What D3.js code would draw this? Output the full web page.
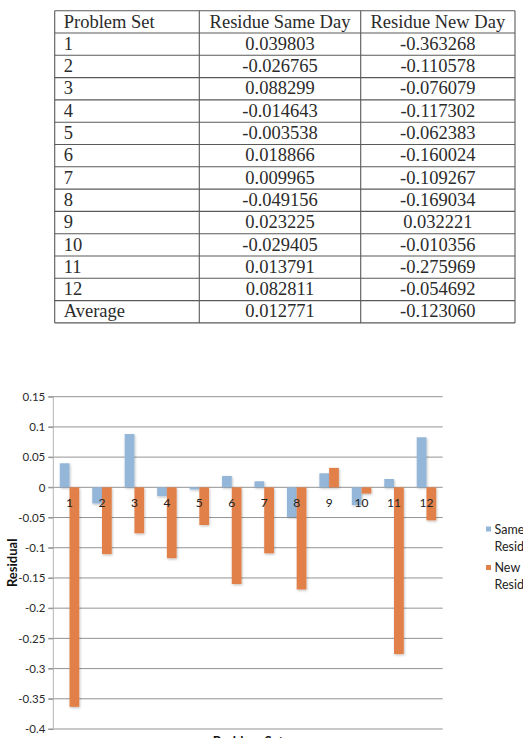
<!DOCTYPE html>
<html>
<head>
<meta charset="utf-8">
<script src="https://d3js.org/d3.v7.min.js"></script>
<style>
  html, body { margin: 0; padding: 0; background: #fff; }
  svg { display: block; }
</style>
</head>
<body>
<div id="chart"></div>
<script>
// data
const problemSets = ["1", "2", "3", "4", "5", "6", "7", "8", "9", "10", "11", "12"];
const sameDay = [0.039803, -0.026765, 0.088299, -0.014643, -0.003538, 0.018866,
                 0.009965, -0.049156, 0.023225, -0.029405, 0.013791, 0.082811];
const newDay = [-0.363268, -0.110578, -0.076079, -0.117302, -0.062383, -0.160024,
                -0.109267, -0.169034, 0.032221, -0.010356, -0.275969, -0.054692];
const averageRow = ["Average", "0.012771", "-0.123060"];
const tableHeader = ["Problem Set", "Residue Same Day", "Residue New Day"];
const yTicks = [0.15, 0.1, 0.05, 0, -0.05, -0.1, -0.15, -0.2, -0.25, -0.3, -0.35, -0.4];
const seriesNames = [["Same Day", "Residue"], ["New Day", "Residue"]];
const seriesColors = ["#93b6d9", "#e2804a"];

function initChart() {
  const width = 523, height = 738;
  const svg = d3.select("#chart").append("svg")
    .attr("width", width)
    .attr("height", height);

  // 1) TABLE
  const fmt = v => v.toFixed(6);
  const rows = [tableHeader]
    .concat(problemSets.map((p, i) => [p, fmt(sameDay[i]), fmt(newDay[i])]))
    .concat([averageRow]);

  const tLeft = 54.7, tRight = 515, tTop = 10.7, rowH = 22.3;
  const colX = [tLeft, 199.3, 360.7, tRight];
  const rowY = d3.scaleLinear().domain([0, rows.length]).range([tTop, tTop + rows.length * rowH]);

  const table = svg.append("g").attr("class", "table");
  table.selectAll(".hline")
    .data(d3.range(rows.length + 1))
    .join("line")
    .attr("class", "hline")
    .attr("x1", tLeft).attr("x2", tRight)
    .attr("y1", d => rowY(d)).attr("y2", d => rowY(d))
    .attr("stroke", "#5a5a5a").attr("stroke-width", 1.1);
  table.selectAll(".vline")
    .data(colX)
    .join("line")
    .attr("class", "vline")
    .attr("x1", d => d).attr("x2", d => d)
    .attr("y1", rowY(0)).attr("y2", rowY(rows.length))
    .attr("stroke", "#5a5a5a").attr("stroke-width", 1.1);

  rows.forEach((r, i) => {
    r.forEach((cell, j) => {
      table.append("text")
        .attr("x", j === 0 ? tLeft + 9 : (colX[j] + colX[j + 1]) / 2)
        .attr("y", rowY(i) + 16.8)
        .attr("text-anchor", j === 0 ? "start" : "middle")
        .attr("font-family", "'Liberation Serif', 'DejaVu Serif', serif")
        .attr("font-size", 18.5)
        .attr("fill", "#2b2b2b")
        .text(cell);
    });
  });

  // 2) BAR CHART
  const plot = { left: 53.3, right: 442.7, top: 396.7, bottom: 729 };
  const x = d3.scaleBand().domain(problemSets).range([plot.left, plot.right]).padding(0);
  const y = d3.scaleLinear().domain([-0.4, 0.15]).range([plot.bottom, plot.top]);
  const barW = x.bandwidth() * 0.3;
  const font = "Lato, 'Open Sans', sans-serif";

  // gridlines
  svg.append("g")
    .selectAll("line")
    .data(yTicks)
    .join("line")
    .attr("x1", plot.left - 5).attr("x2", plot.right)
    .attr("y1", d => y(d)).attr("y2", d => y(d))
    .attr("stroke", "#939393").attr("stroke-width", 1);

  // y axis via d3 axis
  const yAxis = svg.append("g")
    .attr("transform", `translate(${plot.left},0)`)
    .call(d3.axisLeft(y).tickValues(yTicks).tickSize(5).tickPadding(3)
      .tickFormat(d => d === 0 ? "0" : String(+d.toFixed(2))));
  yAxis.select(".domain").attr("stroke", "#b5b5b5").attr("d", `M0,${plot.top}V${plot.bottom}`);
  yAxis.selectAll(".tick line").attr("stroke", "#939393");
  yAxis.selectAll(".tick text")
    .attr("font-family", font).attr("font-size", 11.5).attr("fill", "#2a2a2a");

  // subtle bar shadow
  const defs = svg.append("defs");
  const f = defs.append("filter").attr("id", "shadow")
    .attr("x", "-20%").attr("y", "-5%").attr("width", "150%").attr("height", "120%");
  f.append("feDropShadow").attr("dx", 0.8).attr("dy", 1.2).attr("stdDeviation", 0.8)
    .attr("flood-color", "#000").attr("flood-opacity", 0.25);

  const series = [sameDay, newDay];
  series.forEach((vals, s) => {
    svg.append("g").attr("filter", "url(#shadow)")
      .selectAll("rect")
      .data(vals)
      .join("rect")
      .attr("x", (d, i) => x(problemSets[i]) + x.bandwidth() / 2 - barW + s * barW)
      .attr("y", d => y(Math.max(0, d)))
      .attr("width", barW)
      .attr("height", d => Math.abs(y(d) - y(0)))
      .attr("fill", seriesColors[s]);
  });

  // category labels on the zero line
  svg.append("g")
    .selectAll("text")
    .data(problemSets)
    .join("text")
    .attr("x", d => x(d) + x.bandwidth() / 2)
    .attr("y", y(0) + 20)
    .attr("text-anchor", "middle")
    .attr("font-family", font).attr("font-size", 12).attr("fill", "#222")
    .text(d => d);

  // axis titles
  svg.append("text")
    .attr("transform", `translate(12,${(plot.top + plot.bottom) / 2}) rotate(-90)`)
    .attr("dy", "0.35em")
    .attr("text-anchor", "middle")
    .attr("font-family", font).attr("font-size", 13).attr("font-weight", "bold")
    .attr("fill", "#111")
    .text("Residual");
  svg.append("text")
    .attr("x", (plot.left + plot.right) / 2)
    .attr("y", 746)
    .attr("text-anchor", "middle")
    .attr("font-family", font).attr("font-size", 13).attr("font-weight", "bold")
    .attr("fill", "#111")
    .text("Problem Set");

  // legend
  const legend = svg.append("g");
  const legendY = [526.5, 565];
  seriesNames.forEach((lines, s) => {
    legend.append("rect")
      .attr("x", 486).attr("y", legendY[s])
      .attr("width", 5).attr("height", 5)
      .attr("fill", seriesColors[s]);
    lines.forEach((t, k) => {
      legend.append("text")
        .attr("x", 494.5).attr("y", legendY[s] + 7 + k * 17)
        .attr("font-family", font).attr("font-size", 12.5).attr("fill", "#222")
        .text(t);
    });
  });
}

document.addEventListener("DOMContentLoaded", initChart);
</script>
</body>
</html>
